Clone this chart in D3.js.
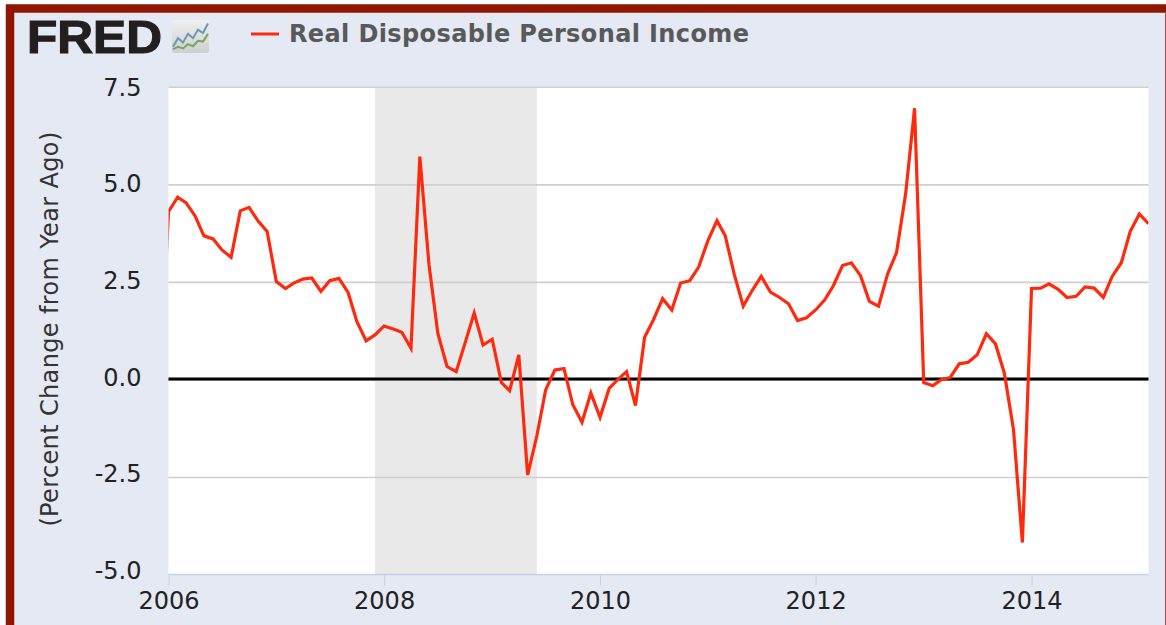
<!DOCTYPE html>
<html>
<head>
<meta charset="utf-8">
<script src="https://cdn.jsdelivr.net/npm/d3@7"></script>
<style>
  html, body { margin: 0; padding: 0; background: #fff; overflow: hidden; }
  svg { filter: blur(0.4px); }
  text { font-family: "DejaVu Sans", sans-serif; }
</style>
</head>
<body>
<div id="chart"></div>
<script>
const startMonth = new Date(2005, 11, 1)
// monthly % change from year ago, Dec 2005 .. Feb 2015
const values = [
  -0.6,
  4.30, 4.67, 4.53, 4.19, 3.68, 3.60, 3.32, 3.13, 4.32, 4.41, 4.05, 3.79,
  2.51, 2.33, 2.47, 2.57, 2.60, 2.26, 2.53, 2.59, 2.23, 1.48, 0.99, 1.14,
  1.37, 1.29, 1.21, 0.80, 5.71, 2.94, 1.18, 0.33, 0.20, 0.93, 1.70, 0.88,
  1.03, -0.08, -0.29, 0.63, -2.45, -1.45, -0.27, 0.24, 0.28, -0.65, -1.10, -0.35,
  -0.97, -0.23, -0.01, 0.20, -0.67, 1.08, 1.53, 2.07, 1.78, 2.47, 2.53, 2.88,
  3.55, 4.07, 3.68, 2.68, 1.88, 2.29, 2.64, 2.24, 2.10, 1.94, 1.51, 1.58,
  1.78, 2.04, 2.40, 2.92, 2.99, 2.66, 2.00, 1.88, 2.71, 3.25, 4.77, 6.95,
  -0.08, -0.16, -0.01, 0.05, 0.40, 0.44, 0.63, 1.17, 0.91, 0.16, -1.29, -4.18,
  2.33, 2.34, 2.45, 2.31, 2.10, 2.13, 2.37, 2.34, 2.10, 2.64, 2.99, 3.79,
  4.24, 3.99
]
const yTicks = [-5, -2.5, 0, 2.5, 5, 7.5]
const xTickYears = [2006, 2008, 2010, 2012, 2014]
const recession = [new Date(2007, 11, 1), new Date(2009, 5, 1)]
const seriesName = 'Real Disposable Personal Income'
const yTitle = '(Percent Change from Year Ago)'
// little FRED logo chart
const iconBlue = [1, 3, 2, 4, 3, 5, 4.2, 6.4]
const iconGreen = [0.4, 1, 0.6, 1.6, 1.1, 2.4, 2.2, 4]

const width = 1166, height = 625
const plot = {left: 168.5, right: 1148.5, top: 86.8, bottom: 574.5}

const svg = d3.select('#chart').append('svg')
  .attr('width', width).attr('height', height)
  .style('display', 'block')

// frame, runs off the bottom of the page
svg.append('rect').attr('x', 10).attr('y', 8.5).attr('width', 1155).attr('height', 640)
  .attr('fill', '#e4e9f3')
svg.append('path').attr('d', 'M10,650V8.5H1170')
  .attr('fill', 'none').attr('stroke', '#8f1600').attr('stroke-width', 8.5)
svg.append('rect').attr('x', 1165).attr('y', 12).attr('width', 1).attr('height', height)
  .attr('fill', '#a0524a')

const parsed = values.map((v, i) => ({date: d3.timeMonth.offset(startMonth, i), value: v}))

const x = d3.scaleTime()
  .domain([new Date(2006, 0, 1), new Date(2015, 1, 1)])
  .range([plot.left, plot.right])
const y = d3.scaleLinear().domain([-5, 7.5]).range([plot.bottom, plot.top])
// tick labels sit slightly tighter than the grid in the original
const labelY = d3.scaleLinear().domain([-5, 7.5]).range([570.7, 87.5])

svg.append('rect')
  .attr('x', plot.left).attr('y', plot.top)
  .attr('width', plot.right - plot.left).attr('height', plot.bottom - plot.top)
  .attr('fill', '#fff')

svg.append('rect')
  .attr('x', x(recession[0])).attr('y', plot.top)
  .attr('width', x(recession[1]) - x(recession[0])).attr('height', plot.bottom - plot.top)
  .attr('fill', '#e9e9e9')

// grid comes from the y axis
const yAxis = svg.append('g')
  .attr('transform', `translate(${plot.left},0)`)
  .call(d3.axisLeft(y).tickValues(yTicks).tickFormat(d => d.toFixed(1))
    .tickSize(-(plot.right - plot.left)).tickPadding(27))
yAxis.select('.domain').remove()
yAxis.selectAll('line').attr('stroke', '#cfcfcf').attr('stroke-width', 1.6)
yAxis.selectAll('text')
  .attr('font-size', 24).attr('fill', '#222').attr('text-anchor', 'end')
  .attr('y', d => labelY(d) - y(d))
yAxis.selectAll('.tick').filter(d => d === -5).select('line').remove()

svg.append('line')
  .attr('x1', plot.left).attr('x2', plot.right)
  .attr('y1', y(0) - 0.3).attr('y2', y(0) - 0.3)
  .attr('stroke', '#000').attr('stroke-width', 3)

const xAxis = svg.append('g')
  .attr('transform', `translate(0,${plot.bottom})`)
  .call(d3.axisBottom(x).tickValues(xTickYears.map(d => new Date(d, 0, 1)))
    .tickFormat(d3.timeFormat('%Y')).tickSize(11).tickPadding(6))
xAxis.select('.domain').attr('d', `M${plot.left},0H${plot.right}`)
  .attr('stroke', '#c4d2e2').attr('stroke-width', 1.5)
xAxis.selectAll('line').attr('stroke', '#c4d2e2').attr('stroke-width', 1)
xAxis.selectAll('text').attr('font-size', 24).attr('fill', '#222')

svg.append('clipPath').attr('id', 'plot-clip')
  .append('rect')
  .attr('x', plot.left).attr('y', plot.top)
  .attr('width', plot.right - plot.left).attr('height', plot.bottom - plot.top)

const line = d3.line().x(d => x(d.date)).y(d => y(d.value))
svg.append('path')
  .datum(parsed)
  .attr('clip-path', 'url(#plot-clip)')
  .attr('d', line)
  .attr('fill', 'none')
  .attr('stroke', '#ff2a0d')
  .attr('stroke-width', 3.2)
  .attr('stroke-linejoin', 'miter')

svg.append('text')
  .attr('transform', 'translate(57.5,329) rotate(-90)')
  .attr('text-anchor', 'middle')
  .attr('font-size', 24)
  .attr('letter-spacing', 0.36)
  .attr('fill', '#333')
  .text(yTitle)

// logo
svg.append('text')
  .attr('x', 27).attr('y', 53)
  .attr('font-size', 47)
  .attr('font-weight', 700)
  .attr('textLength', 135)
  .attr('lengthAdjust', 'spacingAndGlyphs')
  .style('font-family', '"Liberation Sans", sans-serif')
  .attr('fill', '#231f20')
  .attr('stroke', '#231f20')
  .attr('stroke-width', 1.2)
  .text('FRED')

const iconGrad = svg.append('linearGradient').attr('id', 'icon-bg').attr('x2', 0).attr('y2', 1)
iconGrad.append('stop').attr('offset', 0).attr('stop-color', '#eef0f0')
iconGrad.append('stop').attr('offset', 1).attr('stop-color', '#cdd0d1')

const icon = svg.append('g').attr('transform', 'translate(172,20)')
icon.append('rect').attr('width', 37).attr('height', 33).attr('rx', 3).attr('fill', 'url(#icon-bg)')
const iconX = d3.scaleLinear().domain([0, iconBlue.length - 1]).range([1, 36])
const iconY = d3.scaleLinear().domain([0, 7]).range([31, 1])
const iconLine = d3.line().x((d, i) => iconX(i)).y(d => iconY(d))
icon.append('path').attr('d', iconLine(iconBlue)).attr('fill', 'none').attr('stroke', '#6f97b5').attr('stroke-width', 2)
icon.append('path').attr('d', iconLine(iconGreen)).attr('fill', 'none').attr('stroke', '#7ba65c').attr('stroke-width', 2)

// legend
svg.append('line')
  .attr('x1', 251).attr('x2', 279).attr('y1', 34).attr('y2', 34)
  .attr('stroke', '#ff2a0d').attr('stroke-width', 3)
svg.append('text')
  .attr('x', 289).attr('y', 42)
  .attr('font-size', 24)
  .attr('font-weight', 700)
  .attr('textLength', 460)
  .attr('fill', '#58595b')
  .text(seriesName)
</script>
</body>
</html>
